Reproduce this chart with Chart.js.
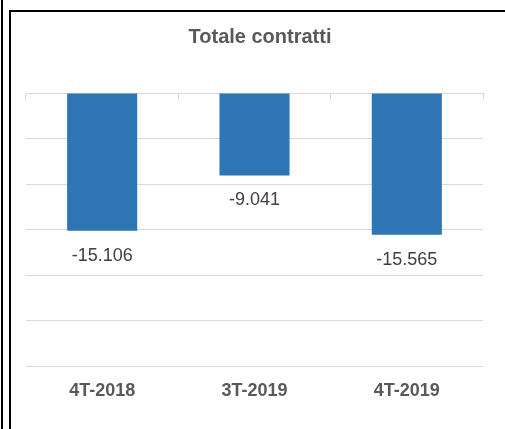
<!DOCTYPE html>
<html>
<head>
<meta charset="utf-8">
<script src="https://cdn.jsdelivr.net/npm/chart.js@4/dist/chart.umd.min.js"></script>
<style>
  html, body { margin: 0; padding: 0; background: #fff; overflow: hidden; }
  #wrap { position: absolute; left: 0; top: 0; width: 505px; height: 429px; }
  #outer { position: absolute; left: 1px; top: 0; width: 2px; height: 429px; background: #000; }
  #frame { position: absolute; left: 9px; top: 10px; width: 496px; height: 419px;
           border-left: 2px solid #000; border-top: 2px solid #000; box-sizing: border-box; }
</style>
</head>
<body>
<div id="wrap">
  <canvas id="chart" width="505" height="429"></canvas>
  <div id="outer"></div>
  <div id="frame"></div>
</div>
<script>
const categories = ['4T-2018', '3T-2019', '4T-2019'];
const values = [-15106, -9041, -15565];
const valueLabels = ['-15.106', '-9.041', '-15.565'];
const chartTitle = 'Totale contratti';

// draws the number under the end of each bar
const barLabels = {
    id: 'barLabels',
    afterDatasetsDraw(chart) {
        const ctx = chart.ctx;
        const meta = chart.getDatasetMeta(0);
        ctx.save();
        ctx.font = '18px "Liberation Sans", Arial, sans-serif';
        ctx.fillStyle = '#404040';
        ctx.textAlign = 'center';
        ctx.textBaseline = 'middle';
        meta.data.forEach((bar, i) => {
            ctx.fillText(valueLabels[i], bar.x, bar.y + 25);
        });
        ctx.restore();
    }
};

new Chart(document.getElementById('chart'), {
    type: 'bar',
    data: {
        labels: categories,
        datasets: [{
            data: values,
            backgroundColor: '#2E75B6',
            borderWidth: 0,
            barPercentage: 0.46,
            categoryPercentage: 1
        }]
    },
    options: {
        responsive: false,
        animation: false,
        layout: { padding: { left: 26, right: 11, top: 0, bottom: 21 } },
        plugins: {
            legend: { display: false },
            tooltip: { enabled: false },
            title: {
                display: true,
                text: chartTitle,
                color: '#595959',
                font: { family: '"Liberation Sans", Arial, sans-serif', size: 20, weight: 'bold' },
                padding: { top: 25, bottom: 44 }
            }
        },
        scales: {
            x: {
                position: 'bottom',
                grid: { display: false },
                border: { display: false },
                ticks: {
                    color: '#595959',
                    padding: 6,
                    font: { family: '"Liberation Sans", Arial, sans-serif', size: 18, weight: 'bold' }
                }
            },
            // the zero line with its small category ticks
            xZero: {
                type: 'category',
                position: { y: 0 },
                grid: { drawOnChartArea: false, offset: true, tickLength: 6, color: '#d9d9d9' },
                border: { display: true, color: '#d9d9d9' },
                ticks: { display: false }
            },
            y: {
                position: 'right',
                min: -30000,
                max: 0,
                ticks: { display: false, stepSize: 5000 },
                grid: { color: '#d9d9d9', drawTicks: false },
                border: { display: false },
                afterFit(scale) { scale.width = 11; }
            }
        }
    },
    plugins: [barLabels]
});
</script>
</body>
</html>
